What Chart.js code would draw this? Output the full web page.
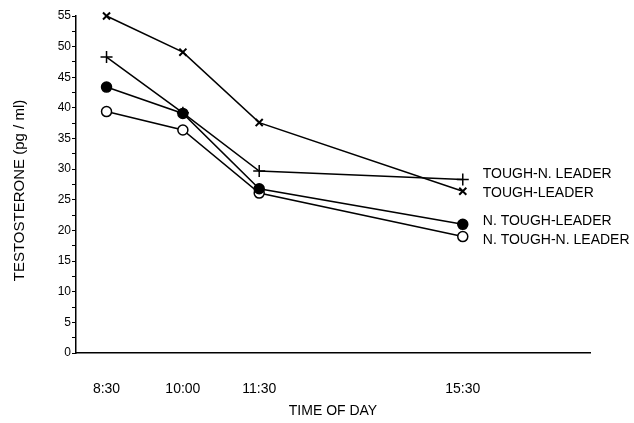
<!DOCTYPE html>
<html lang="en">
<head>
  <meta charset="UTF-8">
  <title>Testosterone by time of day</title>
  <script src="https://cdn.jsdelivr.net/npm/chart.js"></script>
  <style>
    body { margin: 0; background: #fff; }
    #wrap { width: 634px; height: 423px; }
  </style>
</head>
<body>
  <div id="wrap"><canvas id="chart"></canvas></div>
  <script>
    // times of day (hours) and their labels
    const hours = [8.5, 10, 11.5, 15.5];
    const timeLabels = ['8:30', '10:00', '11:30', '15:30'];

    const seriesNames = ['TOUGH-LEADER', 'TOUGH-N. LEADER', 'N. TOUGH-LEADER', 'N. TOUGH-N. LEADER'];
    const toughLeader = [55, 49.1, 37.6, 26.4];
    const toughNLeader = [48.3, 39.2, 29.7, 28.3];
    const nToughLeader = [43.4, 39.1, 26.8, 21.0];
    const nToughNLeader = [39.4, 36.4, 26.1, 19.0];

    const font = "'Liberation Sans', Arial, sans-serif";
    const labelShift = [2, -5, -3, 4];

    const pts = vals => vals.map((v, i) => ({ x: hours[i], y: v }));

    const base = { borderColor: '#000', borderWidth: 1.5, pointBorderColor: '#000', pointBorderWidth: 1.5, clip: false };

    const endLabels = {
      id: 'endLabels',
      afterDatasetsDraw(chart) {
        const ctx = chart.ctx;
        ctx.save();
        ctx.fillStyle = '#000';
        ctx.font = '14px ' + font;
        ctx.textBaseline = 'middle';
        chart.data.datasets.forEach((ds, i) => {
          const meta = chart.getDatasetMeta(i);
          const last = meta.data[meta.data.length - 1];
          ctx.fillText(seriesNames[i], last.x + 20, last.y + labelShift[i]);
        });
        ctx.restore();
      }
    };

    // y title drawn by hand so it can sit a little below the axis centre
    const yTitle = {
      id: 'yTitle',
      afterDraw(chart) {
        const ctx = chart.ctx;
        const a = chart.chartArea;
        ctx.save();
        ctx.fillStyle = '#000';
        ctx.font = '15px ' + font;
        ctx.textAlign = 'center';
        ctx.textBaseline = 'middle';
        ctx.translate(20, (a.top + a.bottom) / 2 + 6);
        ctx.rotate(-Math.PI / 2);
        ctx.fillText('TESTOSTERONE (pg / ml)', 0, 0);
        ctx.restore();
      }
    };

    new Chart(document.getElementById('chart'), {
      type: 'line',
      data: {
        datasets: [
          { ...base, data: pts(toughLeader), pointStyle: 'crossRot', pointRadius: 5, pointBorderWidth: 2 },
          { ...base, data: pts(toughNLeader), pointStyle: 'cross', pointRadius: 6 },
          { ...base, data: pts(nToughLeader), pointStyle: 'circle', pointRadius: 5, pointBackgroundColor: '#000' },
          { ...base, data: pts(nToughNLeader), pointStyle: 'circle', pointRadius: 5, pointBackgroundColor: '#fff' }
        ]
      },
      options: {
        responsive: true,
        maintainAspectRatio: false,
        animation: false,
        layout: { padding: { left: 0, right: 44, top: 16, bottom: 0 } },
        plugins: { legend: { display: false }, tooltip: { enabled: false } },
        scales: {
          x: {
            type: 'linear',
            min: 7.9,
            max: 18,
            afterBuildTicks: scale => { scale.ticks = hours.map(v => ({ value: v })); },
            afterFit: scale => { scale.height = 70; },
            grid: { display: false },
            border: { display: true, color: '#000', width: 1.5 },
            ticks: {
              color: '#000',
              font: { family: font, size: 14 },
              padding: 20,
              maxRotation: 0,
              autoSkip: false,
              callback: (v, i) => timeLabels[i]
            },
            title: {
              display: true,
              text: 'TIME OF DAY',
              color: '#000',
              font: { family: font, size: 14 },
              padding: { top: 0, bottom: 3 }
            }
          },
          y: {
            min: 0,
            max: 55,
            afterFit: scale => { scale.width = 76; },
            grid: { drawOnChartArea: false, color: '#000', tickLength: 4, tickWidth: 1 },
            border: { display: true, color: '#000', width: 1.5 },
            ticks: {
              stepSize: 2.5,
              autoSkip: false,
              color: '#000',
              padding: 1,
              font: { family: font, size: 12 },
              callback: v => (v % 5 === 0 ? v : '')
            }
          }
        }
      },
      plugins: [endLabels, yTitle]
    });
  </script>
</body>
</html>
